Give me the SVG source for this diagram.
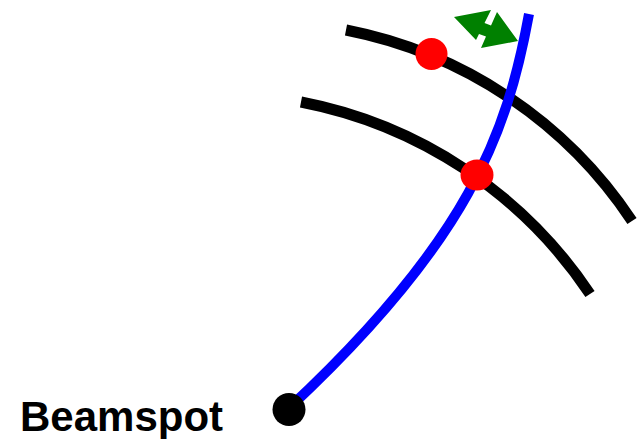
<svg xmlns="http://www.w3.org/2000/svg" width="637" height="439" viewBox="0 0 637 439">
  <style>
    .layer { fill: none; stroke: #000000; stroke-width: 11; stroke-linecap: butt; }
    .track { fill: none; stroke: #0000ff; stroke-width: 10; }
    .hit { fill: #ff0000; }
    .label { font-family: "Liberation Sans", Arial, sans-serif; font-weight: bold; fill: #000000; }
  </style>
  <rect width="637" height="439" fill="#ffffff"/>
  <g id="layers">
    <path id="layer-inner" class="layer" d="M301,102 A450,450 0 0 1 590,294"/>
    <path id="layer-outer" class="layer" d="M346,30 A446,446 0 0 1 632,221"/>
  </g>
  <g id="connectors">
    <path id="track" class="track" d="M289,408 C469,240 507,134 529,14"/>
  </g>
  <g id="residual">
    <polygon fill="#008000" points="454,17 491,10 484.5,23 491,25.5 497,12 518,41 481,48 486,36.6 479,34 476,40"/>
  </g>
  <g id="hit-outer">
    <circle class="hit" cx="431.5" cy="54" r="16"/>
  </g>
  <g id="hit-inner">
    <ellipse class="hit" cx="477" cy="175" rx="16.5" ry="15.5"/>
  </g>
  <g id="beamspot">
    <circle cx="289" cy="409.5" r="16.5" fill="#000000"/>
    <text class="label" x="20" y="431" font-size="42">Beamspot</text>
  </g>
</svg>
